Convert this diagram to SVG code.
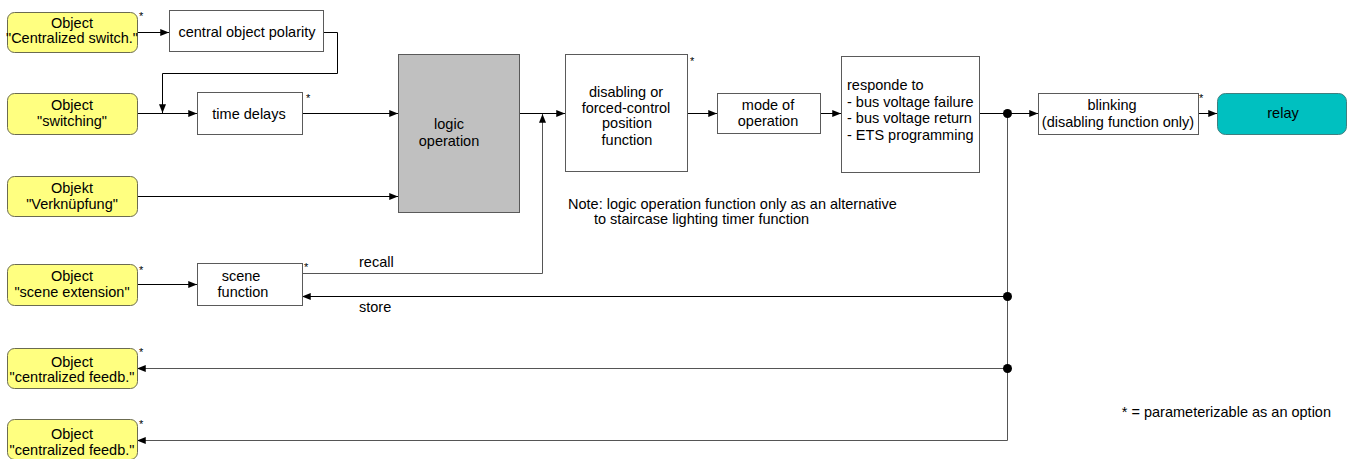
<svg xmlns="http://www.w3.org/2000/svg" width="1352" height="459" viewBox="0 0 1352 459">
<style>
text{font-family:"Liberation Sans",Arial,sans-serif;font-size:14.5px;fill:#000}
.c{text-anchor:middle}
.ast{font-size:11px}
.obj{fill:#FFFF80;stroke:#6b6b50;stroke-width:1}
.box{fill:#fff;stroke:#5a5a5a;stroke-width:1}
.logic{fill:#C0C0C0;stroke:#5a5a5a;stroke-width:1}
.relay{fill:#00C0C0;stroke:#3f7f7f;stroke-width:1}
.ln{fill:none;stroke:#000;stroke-width:1}
.lg{fill:none;stroke:#555;stroke-width:1}
</style>
<defs>
<marker id="ah" viewBox="0 0 10 8" refX="10" refY="4" markerWidth="9" markerHeight="7" markerUnits="userSpaceOnUse" orient="auto">
<path d="M0,0 L10,4 L0,8 z" fill="#000"/>
</marker>
</defs>
<rect width="1352" height="459" fill="#fff"/>

<g id="connectors">
<line class="ln" x1="137" y1="32.5" x2="169" y2="32.5" marker-end="url(#ah)"/>
<polyline class="ln" points="323,32.5 337.5,32.5 337.5,73.5 162.5,73.5 162.5,113" marker-end="url(#ah)"/>
<line class="ln" x1="137" y1="113.5" x2="197" y2="113.5" marker-end="url(#ah)"/>
<line class="ln" x1="302" y1="113.5" x2="398" y2="113.5" marker-end="url(#ah)"/>
<line class="ln" x1="137" y1="196.5" x2="398" y2="196.5" marker-end="url(#ah)"/>
<line class="ln" x1="519" y1="113.5" x2="565" y2="113.5" marker-end="url(#ah)"/>
<line class="ln" x1="137" y1="284.5" x2="197" y2="284.5" marker-end="url(#ah)"/>
<polyline class="lg" points="302,273.5 542.5,273.5 542.5,114" marker-end="url(#ah)"/>
<line class="ln" x1="687" y1="113.5" x2="717" y2="113.5" marker-end="url(#ah)"/>
<line class="ln" x1="820" y1="113.5" x2="841" y2="113.5" marker-end="url(#ah)"/>
<line class="ln" x1="979" y1="113.5" x2="1038" y2="113.5" marker-end="url(#ah)"/>
<line class="ln" x1="1198" y1="113.5" x2="1217" y2="113.5" marker-end="url(#ah)"/>
<polyline class="lg" points="1007.5,113.5 1007.5,440.5"/>
<line class="ln" x1="1007.5" y1="296.5" x2="302" y2="296.5" marker-end="url(#ah)"/>
<line class="lg" x1="1007.5" y1="368.5" x2="137" y2="368.5" marker-end="url(#ah)"/>
<line class="lg" x1="1007.5" y1="440.5" x2="137" y2="440.5" stroke="#888" marker-end="url(#ah)"/>
<circle cx="1007.5" cy="113.5" r="4.5" fill="#000"/>
<circle cx="1007.5" cy="296.5" r="4.5" fill="#000"/>
<circle cx="1007.5" cy="368.5" r="4.5" fill="#000"/>
<text x="359" y="267">recall</text>
<text x="359" y="312">store</text>
</g>

<g id="obj_central">
<rect class="obj" x="7.5" y="12.5" width="130" height="40" rx="7"/>
<text class="c" x="72" y="28">Object</text>
<text class="c" x="72" y="43">"Centralized switch."</text>
<text class="ast" x="139" y="20">*</text>
</g>
<g id="polarity">
<rect class="box" x="169.5" y="10.5" width="154" height="41"/>
<text class="c" x="247" y="37">central object polarity</text>
</g>
<g id="obj_switching">
<rect class="obj" x="7.5" y="93.5" width="130" height="41" rx="7"/>
<text class="c" x="72" y="110">Object</text>
<text class="c" x="72" y="126">"switching"</text>
</g>
<g id="time_delays">
<rect class="box" x="197.5" y="92.5" width="105" height="42"/>
<text class="c" x="249" y="119">time delays</text>
<text class="ast" x="306" y="102">*</text>
</g>
<g id="obj_verknuepfung">
<rect class="obj" x="7.5" y="176.5" width="130" height="40" rx="7"/>
<text class="c" x="72" y="193">Objekt</text>
<text class="c" x="72" y="209">"Verknüpfung"</text>
</g>
<g id="logic">
<rect class="logic" x="398.5" y="54.5" width="121" height="158"/>
<text class="c" x="449" y="129">logic</text>
<text class="c" x="449" y="146">operation</text>
</g>
<g id="disabling">
<rect class="box" x="565.5" y="54.5" width="122" height="117"/>
<text class="c" x="626" y="97">disabling or</text>
<text class="c" x="626" y="113">forced-control</text>
<text class="c" x="627" y="128">position</text>
<text class="c" x="627" y="145">function</text>
<text class="ast" x="690" y="65">*</text>
</g>
<g id="mode">
<rect class="box" x="717.5" y="93.5" width="103" height="40"/>
<text class="c" x="768" y="110">mode of</text>
<text class="c" x="768" y="126">operation</text>
</g>
<g id="responde">
<rect class="box" x="841.5" y="56.5" width="138" height="116"/>
<text x="847" y="90">responde to</text>
<text x="847" y="107">- bus voltage failure</text>
<text x="847" y="123">- bus voltage return</text>
<text x="847" y="140">- ETS programming</text>
</g>
<g id="blinking">
<rect class="box" x="1038.5" y="93.5" width="160" height="41"/>
<text class="c" x="1112" y="110">blinking</text>
<text class="c" x="1118" y="127">(disabling function only)</text>
<text class="ast" x="1199" y="102">*</text>
</g>
<g id="relay">
<rect class="relay" x="1217.5" y="93.5" width="129" height="41" rx="8"/>
<text class="c" x="1283" y="118">relay</text>
</g>
<g id="obj_scene">
<rect class="obj" x="7.5" y="264.5" width="130" height="41" rx="7"/>
<text class="c" x="72" y="281">Object</text>
<text class="c" x="72" y="297">"scene extension"</text>
<text class="ast" x="139" y="274">*</text>
</g>
<g id="scene">
<rect class="box" x="197.5" y="263.5" width="105" height="42"/>
<text class="c" x="241" y="281">scene</text>
<text class="c" x="243" y="297">function</text>
<text class="ast" x="304" y="271">*</text>
</g>
<g id="obj_feedb1">
<rect class="obj" x="7.5" y="348.5" width="130" height="40" rx="7"/>
<text class="c" x="72" y="367">Object</text>
<text class="c" x="72" y="382">"centralized feedb."</text>
<text class="ast" x="139" y="356">*</text>
</g>
<g id="obj_feedb2">
<rect class="obj" x="7.5" y="419.5" width="130" height="40" rx="7"/>
<text class="c" x="72" y="439">Object</text>
<text class="c" x="72" y="455">"centralized feedb."</text>
<text class="ast" x="139" y="428">*</text>
</g>
<g id="notes">
<text x="568" y="209">Note: logic operation function only as an alternative</text>
<text x="594" y="224">to staircase lighting timer function</text>
<text x="1331" y="417" text-anchor="end">* = parameterizable as an option</text>
</g>
</svg>
